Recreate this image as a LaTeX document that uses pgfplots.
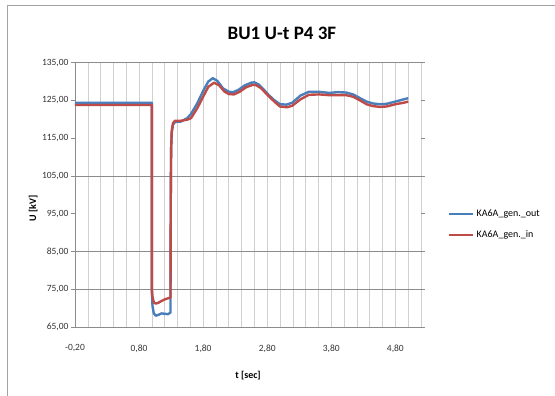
\documentclass[border=0pt]{standalone}
\usepackage{pgfplots}
\pgfplotsset{compat=1.18}
\usepackage{fontspec}
\setmainfont{Carlito}
\definecolor{exblue}{HTML}{4A7EBB}
\definecolor{exred}{HTML}{BE4B48}
\definecolor{hgrid}{HTML}{8C8C8C}
\definecolor{vgrid}{HTML}{D0D0D0}
\begin{document}
\begin{tikzpicture}
\path[use as bounding box] (0pt,0pt) rectangle (555pt,396pt);
\draw[color=hgrid!80, line width=0.8pt] (7.5pt,0pt) -- (7.5pt,391pt) -- (555pt,391pt);
\begin{axis}[
  at={(75pt,69pt)}, anchor=south west,
  scale only axis, width=346pt, height=264.3pt,
  xmin=-0.2, xmax=5.2, ymin=65, ymax=135,
  axis line style={draw=none},
  xtick={-0.2,0.8,1.8,2.8,3.8,4.8},
  minor xtick={0,0.2,0.4,0.6,1,1.2,1.4,1.6,2,2.2,2.4,2.6,3,3.2,3.4,3.6,4,4.2,4.4,4.6,5,5.2},
  xmajorgrids, xminorgrids,
  major x grid style={color=vgrid, line width=0.6pt},
  minor x grid style={color=vgrid, line width=0.6pt},
  ytick={65,75,85,95,105,115,125,135},
  extra y ticks={75,85,105,135},
  extra y tick labels={},
  extra y tick style={grid=major, major grid style={color=hgrid, line width=0.8pt}, tick style={draw=none}},
  tick align=outside,
  x tick style={draw=none},
  y tick style={color=hgrid, line width=0.6pt},
  major tick length=4pt,
  /pgf/number format/assume math mode=true,
  /pgf/number format/.cd, fixed, fixed zerofill, precision=2, use comma,
  /pgfplots/.cd,
  tick label style={font=\fontsize{9.5}{11}\selectfont, color=black!80},
  xticklabel style={yshift=-10pt},
  yticklabel style={xshift=1pt},
  xlabel={\textbf{t [sec]}}, ylabel={\textbf{U [kV]}},
  label style={font=\fontsize{10}{12}\selectfont},
  every axis x label/.style={at={(axis description cs:0.5,-0.182)}, anchor=center, font=\fontsize{10}{12}\selectfont},
  every axis y label/.style={at={(axis description cs:-0.121,0.45)}, rotate=90, anchor=center, font=\fontsize{10}{12}\selectfont},
  legend style={at={(axis description cs:1.078,0.388)}, anchor=west, draw=none, fill=none,
    font=\fontsize{10}{12}\selectfont, row sep=9pt, inner sep=0pt},
  legend cell align=left,
  legend image code/.code={\draw[#1, line width=2.5pt] (0pt,0pt) -- (24pt,0pt);},
  clip=false,
]
\draw[color=hgrid, line width=0.8pt] (axis cs:-0.2,135) -- (axis cs:-0.2,65) -- (axis cs:5.2,65);
\addplot[exblue, line width=2.4pt, line join=round] coordinates {
(-0.2,124.4) (1.0,124.4) (1.0,74) (1.01,70.5) (1.03,68.6) (1.06,68.0) (1.1,68.2)
(1.15,68.6) (1.2,68.5) (1.25,68.4) (1.29,68.8) (1.295,100) (1.30,112) (1.31,116.5)
(1.33,118.6) (1.36,119.3) (1.45,119.4) (1.55,120.3) (1.61,121.4) (1.71,124.3)
(1.8,127.5) (1.88,130.0) (1.95,130.9) (2.02,130.2) (2.11,128.2) (2.2,127.3)
(2.27,127.2) (2.35,127.8) (2.45,129.0) (2.55,129.7) (2.6,129.8) (2.67,129.2)
(2.75,127.8) (2.82,126.5) (2.9,125.2) (3.0,124.0) (3.1,123.9) (3.19,124.4)
(3.32,126.3) (3.45,127.3) (3.6,127.3) (3.77,127.0) (3.9,127.2) (4.03,127.1)
(4.14,126.6) (4.25,125.6) (4.35,124.7) (4.45,124.2) (4.56,124.0) (4.66,124.1)
(4.8,124.7) (4.93,125.3) (5.0,125.6)
};
\addlegendentry{KA6A\_gen.\_out}
\addplot[exred, line width=2.4pt, line join=round] coordinates {
(-0.2,123.8) (1.0,123.8) (1.0,75) (1.01,73.0) (1.03,71.5) (1.06,71.2) (1.1,71.4)
(1.15,71.9) (1.2,72.3) (1.25,72.6) (1.29,72.8) (1.295,100) (1.30,112) (1.31,117)
(1.33,119.0) (1.36,119.6) (1.45,119.6) (1.55,119.9) (1.61,120.3) (1.71,123.0)
(1.8,126.0) (1.88,128.6) (1.97,129.7) (2.05,129.0) (2.13,127.4) (2.2,126.7)
(2.28,126.6) (2.37,127.3) (2.47,128.5) (2.57,129.1) (2.62,129.1) (2.7,128.3)
(2.78,126.9) (2.85,125.7) (2.93,124.4) (3.0,123.4) (3.11,123.2) (3.19,123.6)
(3.32,125.3) (3.45,126.5) (3.61,126.6) (3.77,126.4) (4.03,126.4) (4.14,126.0)
(4.25,125.0) (4.35,124.0) (4.45,123.5) (4.56,123.3) (4.66,123.4) (4.8,124.0)
(4.93,124.4) (5.0,124.7)
};
\addlegendentry{KA6A\_gen.\_in}
\node[font=\fontsize{19}{22}\selectfont\bfseries, anchor=center] at (axis description cs:0.598,1.112) {BU1 U-t P4 3F};
\end{axis}
\end{tikzpicture}
\end{document}
